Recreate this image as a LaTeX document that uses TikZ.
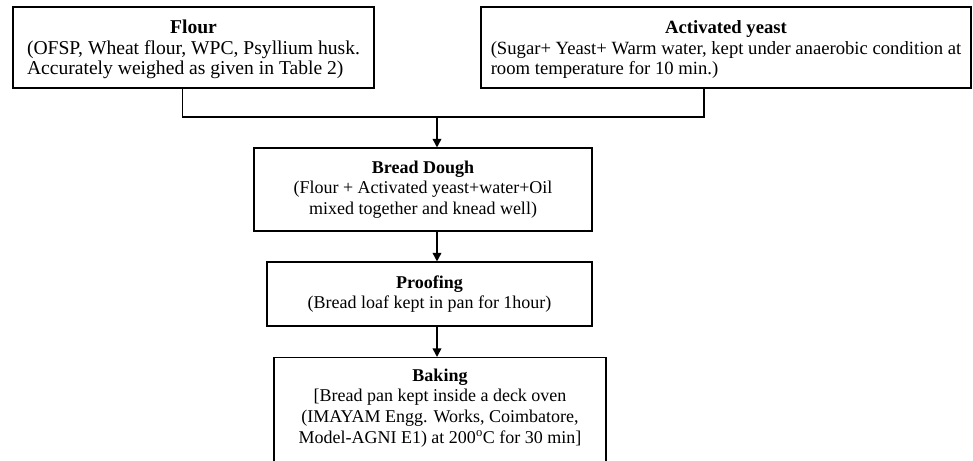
\documentclass[tikz,border=0pt]{standalone}
\usepackage{fontspec}
\setmainfont{Liberation Serif}
\usetikzlibrary{arrows.meta, positioning}

\begin{document}
\begin{tikzpicture}[
  x=0.75pt, y=-0.75pt,
  font=\fontsize{13.5}{15.6}\selectfont,
  every node/.style={align=center},
  box/.style={
    draw=black, line width=0.8pt, fill=white,
    inner sep=3pt
  },
  line/.style={line width=0.8pt},
  arrow/.style={-{Triangle[length=6.5pt, width=6.5pt]}, line width=1.2pt},
]

%% ============================================================
%% Frame
%% ============================================================
\clip (0,0) rectangle (973,460);
\fill[white] (0,0) rectangle (973,460);

%% ============================================================
%% ROW 1 - Ingredients
%% ============================================================
\node[box, minimum width=270.75pt, minimum height=60.75pt,
      font=\fontsize{14.7}{15.4}\selectfont]
  (flour) at (193.5,47.5)
  {\begin{tabular}{@{}l@{}}
   \multicolumn{1}{@{}c@{}}{\rule{0pt}{15pt}\textbf{Flour}}\\
   (OFSP, Wheat flour, WPC, Psyllium husk.\\
   Accurately weighed as given in Table 2)
   \end{tabular}};
\node[box, minimum width=367.5pt, minimum height=60.75pt,
      font=\fontsize{14}{15.4}\selectfont]
  (yeast) at (726,47.5)
  {\begin{tabular}{@{}l@{}}
   \multicolumn{1}{@{}c@{}}{\rule{0pt}{15pt}\textbf{Activated yeast}}\\
   (Sugar+ Yeast+ Warm water, kept under anaerobic condition at\\
   room temperature for 10 min.)
   \end{tabular}};

\coordinate (join) at (437,117);

%% ============================================================
%% ROW 2 - Dough and proofing
%% ============================================================
\node[box, minimum width=253.5pt, minimum height=62.25pt]
  (dough) at (423,189.5)
  {\textbf{Bread Dough}\\
   (Flour + Activated yeast+water+Oil\\
   mixed together and knead well)};
\node[box, minimum width=243.75pt, minimum height=48pt]
  (proof) at (429.5,294)
  {\textbf{Proofing}\\
   (Bread loaf kept in pan for 1hour)};

%% ============================================================
%% ROW 3 - Baking (box runs past the lower edge)
%% ============================================================
\node[box, anchor=north, minimum width=249pt, minimum height=85pt]
  (baking) at (440,357) {};
\node[anchor=north, inner sep=0pt, below=8.5pt of baking.north]
  (bakingtxt)
  {\textbf{Baking}\\
   {[}Bread pan kept inside a deck oven\\
   (IMAYAM Engg. Works, Coimbatore,\\
   Model-AGNI E1) at 200\textsuperscript{o}C for 30 min]};

%% ============================================================
%% ARROWS
%% ============================================================
\draw[line] ([xshift=-8.6pt]flour.south) |- (join)
  -| ([xshift=-16.5pt]yeast.south);
\draw[arrow] (join) -- (join |- dough.north);
\draw[arrow] (dough.south -| join) -- (proof.north -| join);
\draw[arrow] (proof.south -| join) -- (baking.north -| join);

\end{tikzpicture}
\end{document}
